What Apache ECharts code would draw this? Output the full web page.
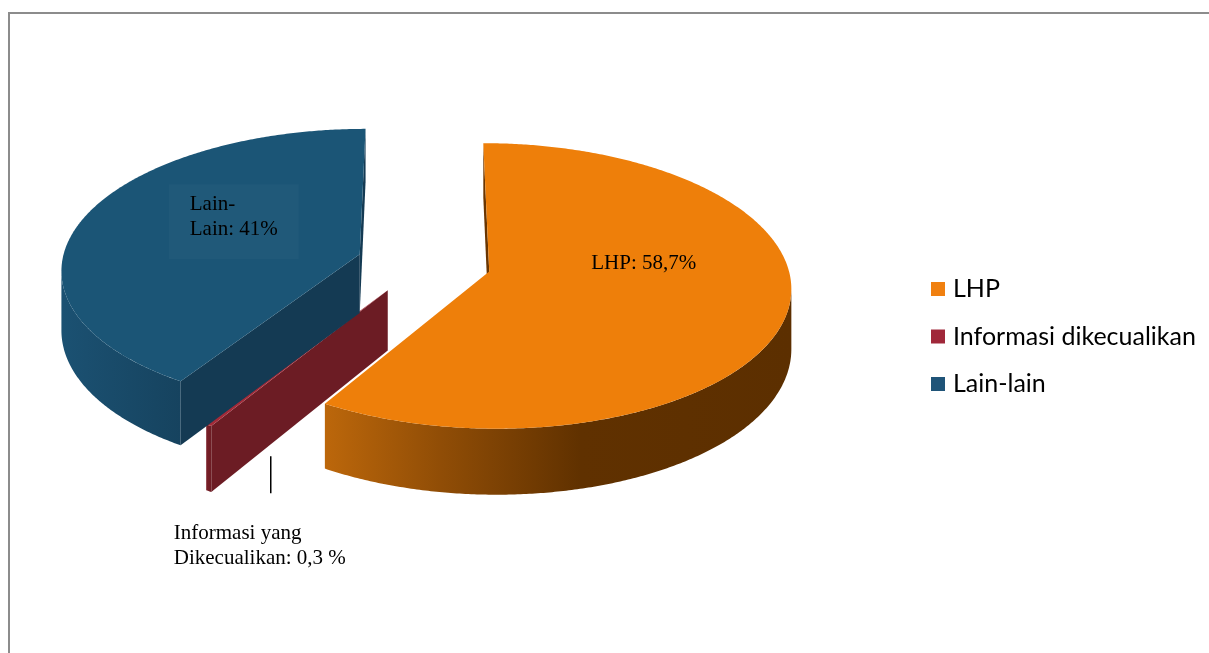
<!DOCTYPE html>
<html><head><meta charset="utf-8">
<script src="https://cdn.jsdelivr.net/npm/echarts/dist/echarts.min.js"></script>
<style>html,body{margin:0;padding:0;background:#fff}#c{width:1209px;height:653px}</style>
</head><body><div id="c"></div>
<script>
// ---- data ----
const categories = ['LHP', 'Informasi dikecualikan', 'Lain-lain'];
const values = [58.7, 0.3, 41];
const labelNames = ['LHP', 'Informasi yang\nDikecualikan', 'Lain-\nLain'];
const labelUnits = ['%', ' %', '%'];

// ---- styles ----
const legendColors = ['#F08010', '#A0283A', '#1F5478'];
const topColors = ['#EE7F0A', '#A32A38', '#1B5576'];
const faceColors = ['#6A3500', '#6C1C24', '#143A53'];
const wallStops = [
  [[0, '#BC670B'], [0.25, '#904D06'], [0.55, '#603100'], [1, '#5C2F00']],
  [[0, '#7A1F28'], [1, '#6C1C24']],
  [[0, '#1B5172'], [1, '#16435F']]
];

// ---- layout (3D projection) ----
const G = {cx: 424, cy: 263, R: 298, T: 139.6, p: 0.1, D: 59, explode: 0.226};
// label placement relative to slice apex (pixels)
const labelLayout = [
  {dx: 102, dy: -21},
  {dx: -214, dy: 230.5, line: [-117, 166, -117, 203]},
  {dx: -191, dy: -70, bg: 'rgba(255,255,255,0.025)', pad: [8, 21, 17, 21]}
];

function proj(X, Y, h) {
  const s = 1 / (1 + G.p * Y);
  return [G.cx + G.R * X * s, G.cy - G.T * Y * s + G.D * h * s];
}
function arcPts(rim, t0, t1, h) {
  const n = Math.max(2, Math.ceil(Math.abs(t1 - t0) / (Math.PI / 360)));
  const pts = [];
  for (let k = 0; k <= n; k++) pts.push(rim(t0 + (t1 - t0) * k / n, h));
  return pts;
}
function signedArea(pts) {
  let s = 0;
  for (let k = 0; k < pts.length; k++) {
    const a = pts[k], b = pts[(k + 1) % pts.length];
    s += a[0] * b[1] - b[0] * a[1];
  }
  return s / 2;
}
function fmt(v, i) { return labelNames[i] + ': ' + String(v).replace('.', ',') + labelUnits[i]; }

function makeRender(i) {
  return function (params, api) {
    const v = api.value(0);
    const total = values.reduce((a, b) => a + b, 0);
    let cum = 0; for (let k = 0; k < i; k++) cum += values[k];
    const a0 = cum / total * 2 * Math.PI, a1 = (cum + v) / total * 2 * Math.PI;
    const mid = (a0 + a1) / 2;
    const ox = G.explode * Math.sin(mid), oy = G.explode * Math.cos(mid);
    const rim = (t, h) => proj(ox + Math.sin(t), oy + Math.cos(t), h);
    const ctr = h => proj(ox, oy, h);
    const children = [];

    // silhouette angles
    let tMax = 0, tMin = 0, xMax = -1e9, xMin = 1e9;
    for (let d = 0; d < 360; d += 0.25) {
      const t = d * Math.PI / 180, x = rim(t, 0)[0];
      if (x > xMax) { xMax = x; tMax = t; }
      if (x < xMin) { xMin = x; tMin = t; }
    }
    // outer wall
    const lo = Math.max(a0, tMax), hi = Math.min(a1, tMin);
    if (hi > lo) {
      const poly = arcPts(rim, lo, hi, 0).concat(arcPts(rim, hi, lo, 1));
      let mnx = 1e9, mxx = -1e9;
      poly.forEach(p => { mnx = Math.min(mnx, p[0]); mxx = Math.max(mxx, p[0]); });
      children.push({
        type: 'polygon', shape: {points: poly},
        style: {fill: {type: 'linear', x: mnx, y: 0, x2: mxx, y2: 0, global: true,
          colorStops: wallStops[i].map(s => ({offset: s[0], color: s[1]}))}}
      });
    }
    // radial faces
    const startFace = [ctr(0), rim(a0, 0), rim(a0, 1), ctr(1)];
    if (signedArea(startFace) < 0) children.push({type: 'polygon', shape: {points: startFace}, style: {fill: faceColors[i]}});
    const endFace = [rim(a1, 0), ctr(0), ctr(1), rim(a1, 1)];
    if (signedArea(endFace) < 0) children.push({type: 'polygon', shape: {points: endFace}, style: {fill: faceColors[i]}});
    // top face
    const top = [ctr(0)].concat(arcPts(rim, a0, a1, 0));
    children.push({type: 'polygon', shape: {points: top}, style: {fill: topColors[i]}});

    // label
    const c = ctr(0), L = labelLayout[i];
    const st = {
      text: fmt(v, i), fill: '#000', font: '21px "Liberation Serif", "Times New Roman", serif',
      lineHeight: 25, align: 'left', verticalAlign: 'top', textAlign: 'left', textVerticalAlign: 'top'
    };
    if (L.bg) { st.backgroundColor = L.bg; st.padding = L.pad; }
    children.push({type: 'text', x: c[0] + L.dx, y: c[1] + L.dy, style: st});
    if (L.line) {
      children.push({type: 'line', shape: {x1: c[0] + L.line[0], y1: c[1] + L.line[1], x2: c[0] + L.line[2], y2: c[1] + L.line[3]},
        style: {stroke: '#000', lineWidth: 1.5}});
    }
    return {type: 'group', children};
  };
}

const chart = echarts.init(document.getElementById('c'), null, {renderer: 'canvas'});
chart.setOption({
  animation: false,
  backgroundColor: '#fff',
  graphic: [{type: 'rect', z: -10, shape: {x: 9, y: 13, width: 1400, height: 800},
    style: {fill: 'none', stroke: '#8c8c8c', lineWidth: 2}}],
  legend: {
    data: categories, orient: 'vertical', left: 931, top: 276.5, padding: 0,
    icon: 'rect', itemWidth: 14, itemHeight: 14, itemGap: 22.5, selectedMode: false,
    textStyle: {fontFamily: 'Lato', fontSize: 25, color: '#000', padding: [0, 0, 0, 3]}
  },
  series: categories.map((name, i) => ({
    type: 'custom', name, coordinateSystem: 'none',
    itemStyle: {color: legendColors[i]},
    data: [[values[i]]],
    renderItem: makeRender(i)
  }))
});
</script></body></html>
